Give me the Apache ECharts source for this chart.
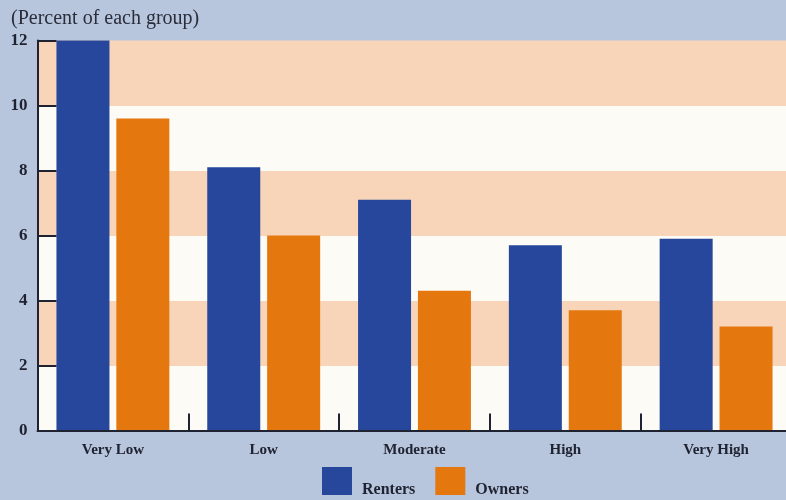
<!DOCTYPE html>
<html>
<head>
<meta charset="utf-8">
<style>
  html, body { margin: 0; padding: 0; background: #b7c5dd; }
  #chart { width: 786px; height: 500px; }
</style>
<script src="https://cdn.jsdelivr.net/npm/echarts@6/dist/echarts.min.js"></script>
</head>
<body>
<div id="chart"></div>
<script>
// Share of each group, by category
const categories = ['Very Low', 'Low', 'Moderate', 'High', 'Very High'];
const renters = [12.0, 8.1, 7.1, 5.7, 5.9];
const owners = [9.6, 6.0, 4.3, 3.7, 3.2];
const yTicks = { min: 0, max: 12, interval: 2 };
const unitLabel = '(Percent of each group)';

const serif = '"Liberation Serif", "DejaVu Serif", serif';
const ink = '#1f2230';
const bandColors = ['#fdfbf6', '#f8d4b9'];

// the plot runs slightly past the right edge of the canvas
const grid = { left: 37.5, right: -5.5, top: 40.5, bottom: 69.5 };

// alternating horizontal bands, one per tick interval, starting from the bottom
const bandCount = Math.round((yTicks.max - yTicks.min) / yTicks.interval);
const bandStops = [];
for (let i = 0; i < bandCount; i++) {
  const c = bandColors[i % 2];
  bandStops.push({ offset: i / bandCount, color: c });
  bandStops.push({ offset: (i + 1) / bandCount, color: c });
}

const chart = echarts.init(document.getElementById('chart'), null, { renderer: 'canvas' });
chart.setOption({
  backgroundColor: '#b7c5dd',
  animation: false,
  title: {
    text: unitLabel,
    left: 6,
    top: 4,
    textStyle: { fontFamily: serif, fontSize: 20, fontWeight: 'normal', color: '#2a2d3a' }
  },
  legend: {
    left: 317,
    top: 462,
    itemWidth: 30,
    itemHeight: 28,
    itemGap: 20,
    icon: 'rect',
    data: ['Renters', 'Owners'],
    formatter: name => '{t|' + name + '}',
    textStyle: {
      rich: {
        t: {
          fontFamily: serif, fontSize: 16, fontWeight: 'bold', color: ink,
          padding: [17, 0, 0, 5]
        }
      }
    }
  },
  grid: Object.assign({
    containLabel: false,
    outerBoundsMode: 'none',
    show: true,
    borderWidth: 0,
    backgroundColor: new echarts.graphic.LinearGradient(0, 1, 0, 0, bandStops)
  }, grid),
  xAxis: {
    type: 'category',
    data: categories,
    z: 5,
    axisLine: { lineStyle: { color: ink, width: 2 } },
    axisTick: { show: true, inside: true, length: 17, lineStyle: { color: ink, width: 2 } },
    axisLabel: { margin: 12, fontFamily: serif, fontSize: 15, fontWeight: 'bold', color: ink }
  },
  yAxis: {
    type: 'value',
    min: yTicks.min,
    max: yTicks.max,
    interval: yTicks.interval,
    z: 5,
    axisLine: { show: true, lineStyle: { color: ink, width: 2 } },
    axisTick: { show: true, inside: true, length: 19, lineStyle: { color: ink, width: 2 } },
    axisLabel: { margin: 10, fontFamily: serif, fontSize: 17, fontWeight: 'bold', color: ink },
    splitLine: { show: false },
    splitArea: { show: false }
  },
  series: [
    {
      name: 'Renters',
      type: 'bar',
      data: renters,
      barWidth: 53,
      barGap: '13%',
      itemStyle: { color: '#26479b' }
    },
    {
      name: 'Owners',
      type: 'bar',
      data: owners,
      barWidth: 53,
      barGap: '13%',
      itemStyle: { color: '#e5770f' }
    }
  ]
});
</script>
</body>
</html>
